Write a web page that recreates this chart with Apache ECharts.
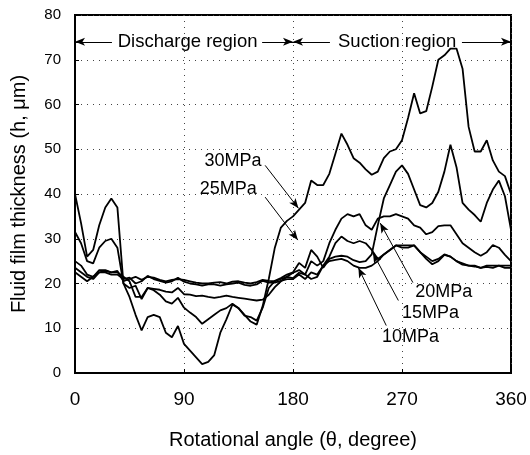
<!DOCTYPE html>
<html>
<head>
<meta charset="utf-8">
<script src="https://cdn.jsdelivr.net/npm/echarts@6/dist/echarts.min.js"></script>
<style>
  html, body { margin: 0; padding: 0; background: #fff; }
  #chart { width: 530px; height: 455px; }
</style>
</head>
<body>
<div id="chart"></div>
<script>
// rotational angle, degree
const angle = [0,5,10,15,20,25,30,35,40,45,50,55,60,65,70,75,80,85,90,95,
  100,105,110,115,120,125,130,135,140,145,150,155,160,165,170,175,180,185,190,195,
  200,205,210,215,220,225,230,235,240,245,250,255,260,265,270,275,280,285,290,295,
  300,305,310,315,320,325,330,335,340,345,350,355,360]

// fluid film thickness, um
const mpa30 = [40,33.5,26,27.5,33,37,39,37,20,17,
  13,9.5,12.5,13,12.5,9,8,10.5,6.5,5,
  3.5,2,2.5,4,9,12,15.3,14.5,13,11.5,
  10.8,15,21,28,32.5,34,35,36.5,38,43,
  42,42,44.5,49,53.5,51,48,47,45.5,44.3,
  45,48,49.5,50,52,57,62.5,58,58.5,64,
  70,71,72.5,72.5,68,55,49.5,49.5,52,47.5,
  45,44,40]
const mpa25 = [31.5,29,25,24.5,28,29.5,30,28,20,19,
  19.5,16.5,19,18.5,17.5,16,15.5,16.8,14.6,13.5,
  12.5,11,12,13,14,14.5,15.5,14.5,12.8,12.5,
  11.7,14.6,19,20.6,21.2,22,22.5,24.6,23.5,27.5,
  26,23.5,25.5,26,26.2,26,25.2,24.8,25,26.5,
  33,39,42,45,46.4,44.5,41,37.5,37,38,
  40.5,45,51,46,38,36.5,35.3,33.8,38,41,
  43,39.5,32]
const mpa20 = [25,24,22,21.5,23,23,22.5,22.5,21.5,20.5,
  17,17,19,18.8,18.6,18.2,18,19,17.6,17.5,
  17.2,17.3,17,16.8,17,17.3,17,16.8,16.6,16.4,
  16.2,16.4,17.5,19.2,20.5,21.5,22.4,23,22,25,
  24,25,29,32,34.5,35.5,35,35.5,33,32,
  34.5,35,35,35.5,35,34.5,33,32.5,31,31.5,
  32.8,33,33,31,29,28,27,26.2,27,28.6,
  28,26.4,25]
const mpa15 = [23.5,22.5,21.5,21,22.5,22.5,22,22,21,21.3,
  20,20.5,21.7,21,20.6,20.2,20.5,21.3,20.4,20,
  19.8,19.5,19.8,19.8,19.5,19.8,20,20.2,19.7,19.5,
  19.8,20.6,20.2,20.2,20.6,21,21,22,21,22.5,
  22,24,26,29,30.5,29.5,29,29.5,29,27.5,
  25.5,26.5,27.5,28.5,28.5,28.5,28.5,27,26,25,
  25.5,26.5,26,25,24.5,24,24,23.5,24,24,
  24,23.5,23.5]
const mpa10 = [22.5,21.5,20.5,21.5,22.5,22.8,22.5,22.8,20.5,21,
  21.5,20.8,21.5,21.3,20.8,20.5,20.8,21,20.8,20.5,
  20.2,20,20,20.2,20.3,20,20.4,20.5,20.2,20,
  20.3,20.8,20.6,20.5,21,21.5,21.2,22.4,22,21,
  21.5,24,25,25.3,25.5,25,24,23.5,23.5,24,
  25,26.5,27.5,28.5,28,28,28.5,27,25.5,24.3,
  25,26.4,26,25,24.2,24,23.8,23.5,23.7,23.5,
  24,24,24]

const seriesNames = ['30MPa', '25MPa', '20MPa', '15MPa', '10MPa']
const seriesValues = [mpa30, mpa25, mpa20, mpa15, mpa10]

// label text anchors [angle, thickness] and arrows [from, to]
const labelPos = [[107, 47.3], [103, 41], [281, 18.2], [270, 13.4], [253.5, 8.1]]
const labelArrows = [
  [[157, 46.4], [184.5, 36.8]],
  [[157, 39.3], [184, 29.7]],
  [[279, 20.2], [252, 33.5]],
  [[267, 16.2], [246, 26.8]],
  [[257, 10.6], [234, 23.5]]
]
const regionNames = ['Discharge region', 'Suction region']
const regionPos = [[93, 74], [266, 74]]
const regionArrows = [
  [[30.5, 74], [0, 74]],
  [[154.5, 74], [180, 74]],
  [[210.5, 74], [180, 74]],
  [[319.5, 74], [360, 74]]
]

const font = '"Liberation Sans", Arial, Helvetica, sans-serif'
const chart = echarts.init(document.getElementById('chart'))

const lines = seriesNames.map((name, k) => ({
  name: name,
  type: 'line',
  data: angle.map((a, i) => [a, seriesValues[k][i]]),
  showSymbol: false,
  lineStyle: { color: '#000', width: 1.8 },
  itemStyle: { color: '#000' },
  silent: true
}))

const arrowData = labelArrows.concat(regionArrows).map(p => [
  { coord: p[0], symbol: 'none' },
  { coord: p[1], symbol: 'arrow', symbolSize: [6, 10] }
])

const textData = seriesNames.map((n, i) => ({ name: n, coord: labelPos[i] }))
  .concat(regionNames.map((n, i) => ({ name: n, coord: regionPos[i], label: { position: 'inside', fontSize: 18.5 } })))

lines.push({
  name: 'notes',
  type: 'line',
  data: [],
  silent: true,
  markLine: {
    silent: true,
    animation: false,
    label: { show: false },
    lineStyle: { color: '#000', width: 1, type: 'solid' },
    data: arrowData
  },
  markPoint: {
    silent: true,
    animation: false,
    symbol: 'circle',
    symbolSize: 0,
    itemStyle: { color: 'transparent' },
    label: {
      show: true,
      position: 'right',
      distance: 0,
      formatter: '{b}',
      color: '#000',
      fontSize: 18,
      fontFamily: font
    },
    data: textData
  }
})

chart.setOption({
  animation: false,
  backgroundColor: '#fff',
  grid: { left: 75, right: 19, top: 15, bottom: 79, show: true, borderColor: '#000', borderWidth: 2 },
  xAxis: {
    type: 'value',
    min: 0,
    max: 360,
    interval: 90,
    name: 'Rotational angle (θ, degree)',
    nameLocation: 'middle',
    nameGap: 57,
    nameTextStyle: { fontSize: 20, color: '#000', fontFamily: font },
    axisLine: { lineStyle: { color: '#000', width: 2 } },
    axisTick: { inside: true, length: 4, lineStyle: { color: '#000' } },
    axisLabel: { fontSize: 19, color: '#000', margin: 17, fontFamily: font },
    splitLine: { show: true, lineStyle: { color: '#444', width: 1, type: [1, 5] } }
  },
  yAxis: {
    type: 'value',
    min: 0,
    max: 80,
    interval: 10,
    name: 'Fluid film thickness (h, μm)',
    nameLocation: 'middle',
    nameGap: 46,
    nameTextStyle: { fontSize: 20, color: '#000', fontFamily: font },
    axisLine: { lineStyle: { color: '#000', width: 2 } },
    axisTick: { inside: true, length: 4, lineStyle: { color: '#000' } },
    axisLabel: { fontSize: 15, color: '#000', margin: 14, fontFamily: font },
    splitLine: { show: true, lineStyle: { color: '#444', width: 1, type: [1, 5] } }
  },
  series: lines
})
</script>
</body>
</html>
